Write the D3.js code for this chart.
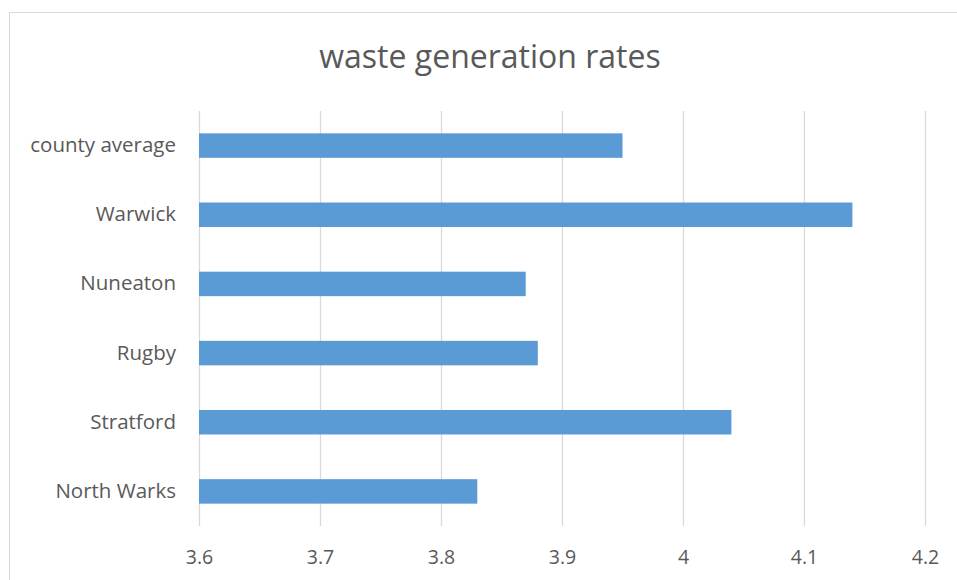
<!DOCTYPE html>
<html>
<head>
<meta charset="utf-8">
<script src="https://cdn.jsdelivr.net/npm/d3@7"></script>
<style>
  body { margin: 0; background: #fff; }
  svg { display: block; }
  svg text { font-family: "Open Sans", sans-serif; }
</style>
</head>
<body>
<svg></svg>
<script>
const categories = ['North Warks', 'Stratford', 'Rugby', 'Nuneaton', 'Warwick', 'county average'];
const rates = [3.83, 4.04, 3.88, 3.87, 4.14, 3.95];
const ticks = [3.6, 3.7, 3.8, 3.9, 4.0, 4.1, 4.2];
const title = 'waste generation rates';

const width = 957;
const height = 580;
const plot = { left: 199, right: 925, top: 111, bottom: 526 };

let svg = d3.select('svg')
    .attr('width', width)
    .attr('height', height);

// chart frame
svg.append('rect')
    .attr('x', 9.5)
    .attr('y', 12.5)
    .attr('width', 960)
    .attr('height', 600)
    .attr('fill', '#fff')
    .attr('stroke', '#d9d9d9');

let data = categories.map((c, i) => ({ name: c, value: rates[i] }));

let xScale = d3.scaleLinear()
    .domain([3.6, 4.2])
    .range([plot.left, plot.right]);

let yScale = d3.scaleBand()
    .domain(categories.slice().reverse())
    .range([plot.top, plot.bottom])
    .paddingInner(0.646)
    .paddingOuter(0.323);

// gridlines + tick labels
let xAxis = d3.axisBottom(xScale)
    .tickValues(ticks)
    .tickSize(-(plot.bottom - plot.top))
    .tickSizeOuter(0)
    .tickPadding(24)
    .tickFormat(d3.format('~g'));

let gx = svg.append('g')
    .attr('transform', `translate(0, ${plot.bottom})`)
    .call(xAxis);
gx.select('.domain').remove();
gx.selectAll('line').attr('stroke', '#d9d9d9').attr('stroke-width', 1.3);
gx.selectAll('text')
    .attr('fill', '#595959')
    .style('font-size', '19.5px');

// bars
svg.append('g')
    .selectAll('rect')
    .data(data)
    .enter()
    .append('rect')
        .attr('x', xScale(3.6))
        .attr('y', d => yScale(d.name))
        .attr('width', d => xScale(d.value) - xScale(3.6))
        .attr('height', yScale.bandwidth())
        .attr('fill', '#5b9bd5');

// category labels
let yAxis = d3.axisLeft(yScale)
    .tickSize(0)
    .tickPadding(23);
let gy = svg.append('g')
    .attr('transform', `translate(${plot.left}, 0)`)
    .call(yAxis);
gy.select('.domain').remove();
gy.selectAll('text')
    .attr('fill', '#595959')
    .style('font-size', '20.5px');

// title
svg.append('text')
    .text(title)
    .attr('x', 490)
    .attr('y', 68)
    .attr('text-anchor', 'middle')
    .attr('fill', '#595959')
    .style('font-size', '32px');
</script>
</body>
</html>
